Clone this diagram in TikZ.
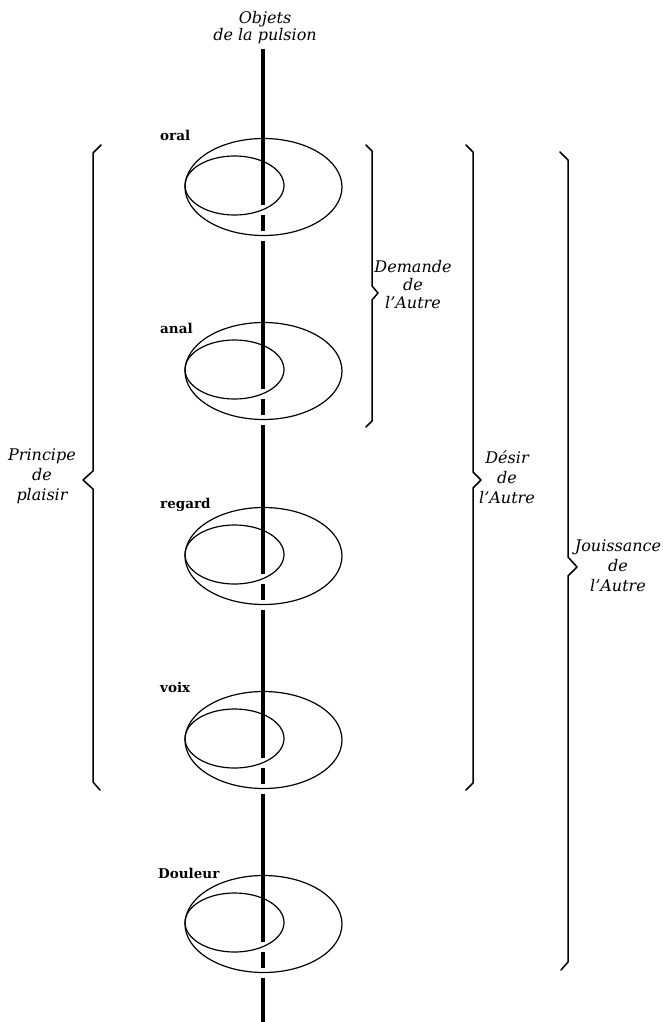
\documentclass[tikz,border=0pt]{standalone}
\usepackage{fontspec}
\setmainfont{DejaVu Serif}
\usetikzlibrary{shapes.geometric}
\tikzset{
  axisline/.style={line width=3.2pt, line cap=butt},
  ring/.style={draw, ellipse, line width=1.2pt, inner sep=0pt},
  outerring/.style={ring, minimum width=157pt, minimum height=97pt},
  innerring/.style={ring, minimum width=99pt, minimum height=59pt},
  bracepath/.style={line width=1.5pt, line join=round, line cap=round},
  lbl/.style={font=\fontsize{13.5}{16}\selectfont\bfseries, anchor=base west, inner sep=0pt},
  itl/.style={align=center, inner sep=0pt},
}
\newcommand{\itf}[1]{\fontsize{16}{#1}\selectfont\itshape}
\begin{document}
\begin{tikzpicture}[x=1pt,y=-1pt]
\useasboundingbox (0,0) rectangle (664,1022);
% vertical axis with gaps behind the lower edges
\draw[axisline] (263,49) -- (263,204.6);
\foreach \cy/\ny in {187/388.6,371/573.6,556/757.6,740/941.6,924/1022}{
  \draw[axisline] (263,\cy+27.6) -- (263,\cy+43.5);
  \draw[axisline] (263,\cy+53.5) -- (263,\ny);
}
% tori
\foreach \cy/\n in {187/o,371/a,556/r,740/v,924/d}{
  \node[outerring] (\n out) at (263.5,\cy) {};
  \node[innerring] (\n in) at (234.5,\cy-1.5) {};
}
% labels
\node[lbl] (loral) at (160,140) {oral};
\node[lbl] (lanal) at (160,333) {anal};
\node[lbl] (lregard) at (160,508) {regard};
\node[lbl] (lvoix) at (160,692) {voix};
\node[lbl] (ldouleur) at (158,878) {Douleur};
% titles
\node[itl, font=\itf{17}] (objets) at (265,28) {Objets\\de la pulsion};
\node[itl, font=\itf{20}] (principe) at (42,476) {Principe\\de\\plaisir};
\node[itl, font=\itf{18}] (demande) at (413,285) {Demande\\de\\l'Autre};
\node[itl, font=\itf{20}] (desir) at (507,477) {Désir\\de\\l'Autre};
\node[itl, font=\itf{20}] (jouis) at (618,566) {Jouissance\\de\\l'Autre};
% braces
\draw[bracepath] (101,145) -- (93,153) -- (93,471) -- (83,480) -- (93,489) -- (93,782) -- (100,790);
\draw[bracepath] (366,145) -- (372,151) -- (372,286) -- (378,293) -- (372,300) -- (372,421) -- (366,427);
\draw[bracepath] (466,145) -- (473,152) -- (473,472) -- (481,480) -- (473,488) -- (473,783) -- (466,790);
\draw[bracepath] (560,152) -- (568,160) -- (568,557) -- (577,567) -- (568,576) -- (568,962) -- (561,970);
\end{tikzpicture}
\end{document}
